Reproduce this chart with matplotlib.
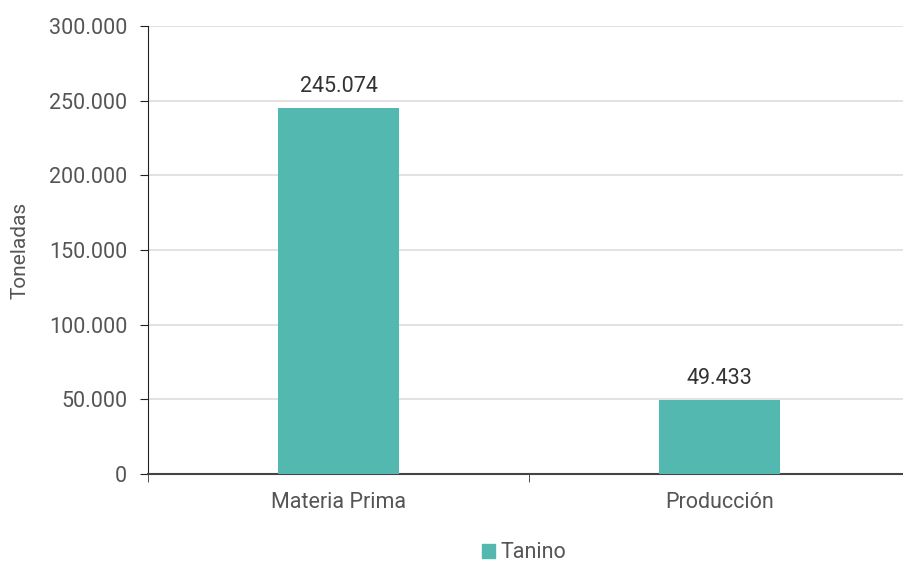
import numpy as np
import matplotlib.pyplot as plt
from matplotlib.ticker import FuncFormatter
from matplotlib.patches import Patch

categorias = ["Materia Prima", "Producción"]
valores = [245074, 49433]
serie = "Tanino"
color = "#52b8b0"

plt.rcParams['font.family'] = ['Roboto', 'DejaVu Sans']

fig = plt.figure(figsize=(9.04, 5.63), dpi=100)
ax = fig.add_axes([148/904, 89/563, 762/904, 448/563])

x = np.arange(len(categorias))
bars = ax.bar(x, valores, width=0.32, color=color, zorder=3)

# etiquetas sobre las barras
for xi, v in zip(x, valores):
    ax.text(xi, v + 7300, f"{v:,}".replace(",", "."), ha="center", va="bottom",
            fontsize=15.5, color="#333333")

ax.set_xlim(-0.5, len(categorias) - 0.5)
ax.set_ylim(0, 300000)
ax.set_yticks(np.arange(0, 300001, 50000))
ax.yaxis.set_major_formatter(FuncFormatter(lambda v, p: f"{int(v):,}".replace(",", ".")))
ax.grid(axis="y", color="#dddddd", linewidth=1.2, zorder=0)

ax.set_xticks(x)
ax.set_xticklabels(categorias)
ax.set_xticks([-0.5, 0.5, 1.5], minor=True)
ax.tick_params(axis="x", which="major", length=0, pad=13, labelsize=15.5, labelcolor="#555555")
ax.tick_params(axis="x", which="minor", length=6, color="#333333")
ax.tick_params(axis="y", length=6, color="#222222", labelsize=15.5, labelcolor="#555555", pad=9)

for s in ["top", "right"]:
    ax.spines[s].set_visible(False)
ax.spines["left"].set_color("#222222")
ax.spines["bottom"].set_color("#444444")
ax.spines["bottom"].set_linewidth(1.5)

fig.text(20/904, 1 - 250/563, "Toneladas", rotation=90, ha="center", va="center",
         fontsize=15, color="#555555")

fig.legend(handles=[Patch(color=color, label=serie)], loc="center",
           bbox_to_anchor=(524/904, 1 - 553/563), frameon=False, fontsize=15.5,
           handlelength=0.6, handleheight=0.6, handletextpad=0.25,
           labelcolor="#555555")

fig.savefig("out.png", dpi=100)
